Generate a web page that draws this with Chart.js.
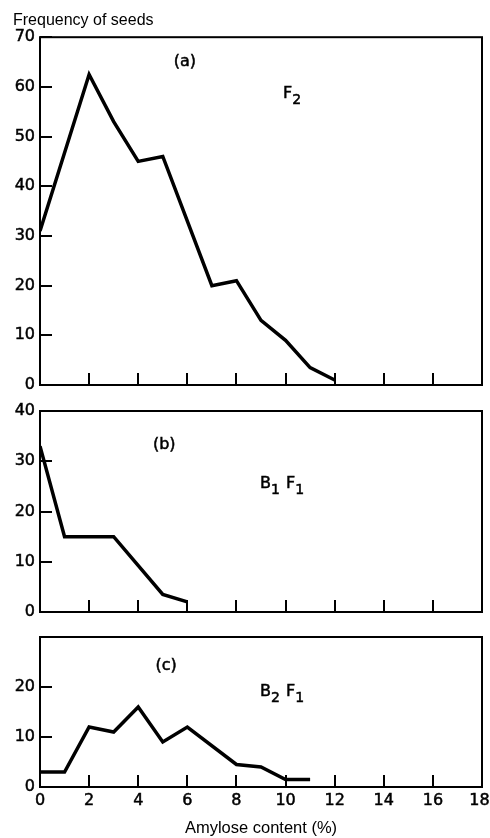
<!DOCTYPE html>
<html>
<head>
<meta charset="utf-8">
<script src="https://cdn.jsdelivr.net/npm/chart.js@4.4.0/dist/chart.umd.min.js"></script>
<style>
  body { margin: 0; background: #fff; }
  canvas { position: absolute; left: 0; }
</style>
</head>
<body>
<canvas id="panelA" width="490" height="395" style="top:0px"></canvas>
<canvas id="panelB" width="490" height="222" style="top:400px"></canvas>
<canvas id="panelC" width="490" height="218" style="top:620px"></canvas>
<script>
// amylose content (%) vs number of seeds, one pair of arrays per population
const f2Amylose = [0, 2, 3, 4, 5, 7, 8, 9, 10, 11, 12];
const f2Seeds   = [31, 62.5, 53, 45, 46, 20, 21, 13, 9, 3.5, 1];

const b1Amylose = [0, 1, 2, 3, 5, 6];
const b1Seeds   = [33, 15, 15, 15, 3.5, 2];

const b2Amylose = [0, 1, 2, 3, 4, 5, 6, 8, 9, 10, 11];
const b2Seeds   = [3, 3, 12, 11, 16, 9, 12, 4.5, 4, 1.5, 1.5];

const xTickValues = [0, 2, 4, 6, 8, 10, 12, 14, 16, 18];

// wide digits for ticks and panel tags, narrower face for the titles
const NUM_FONT = '"DejaVu Sans", sans-serif';
const TEXT_FONT = '"Liberation Sans", Arial, sans-serif';
Chart.defaults.font.family = NUM_FONT;
Chart.defaults.font.size = 16;
Chart.defaults.color = '#000';

// box round the plot area
const frame = {
  id: 'frame',
  afterDraw(chart) {
    const { ctx, chartArea: a } = chart;
    ctx.save();
    ctx.strokeStyle = '#000';
    ctx.lineWidth = 2;
    ctx.strokeRect(a.left, a.top, a.right - a.left, a.bottom - a.top);
    ctx.restore();
  }
};

// "(a)", "F2" style labels placed in data units, with subscripts
const panelLabels = {
  id: 'panelLabels',
  afterDatasetsDraw(chart, args, opts) {
    const { ctx, scales: { x, y } } = chart;
    ctx.save();
    ctx.fillStyle = '#000';
    ctx.strokeStyle = '#000';
    ctx.lineWidth = 0.5;
    ctx.textAlign = 'left';
    ctx.textBaseline = 'middle';
    for (const item of opts.items || []) {
      let px = x.getPixelForValue(item.x);
      const py = y.getPixelForValue(item.y);
      for (const [text, isSub] of item.parts) {
        ctx.font = (isSub ? '14px ' : '16px ') + NUM_FONT;
        const ty = isSub ? py + 6 : py;
        ctx.fillText(text, px, ty);
        ctx.strokeText(text, px, ty);
        px += ctx.measureText(text).width + (isSub ? 1 : 0);
      }
    }
    ctx.restore();
  }
};

function makePanel(id, xs, ys, yMax, cfg) {
  return new Chart(document.getElementById(id), {
    type: 'line',
    data: {
      datasets: [{
        data: xs.map((v, i) => ({ x: v, y: ys[i] })),
        borderColor: '#000',
        borderWidth: 3.5,
        pointRadius: 0,
        tension: 0,
        fill: false
      }]
    },
    options: {
      responsive: false,
      animation: false,
      events: [],
      layout: { padding: { left: 13, right: 8, top: cfg.padTop, bottom: cfg.padBottom } },
      plugins: {
        legend: { display: false },
        tooltip: { enabled: false },
        title: cfg.title ? {
          display: true,
          text: cfg.title,
          align: 'start',
          color: '#000',
          font: { family: TEXT_FONT, size: 16, weight: 'normal' },
          padding: { top: 11, bottom: 7 }
        } : { display: false },
        panelLabels: { items: cfg.labels }
      },
      scales: {
        x: {
          type: 'linear',
          min: 0,
          max: 18,
          afterBuildTicks: s => { s.ticks = xTickValues.map(v => ({ value: v })); },
          ticks: {
            display: cfg.xLabels, padding: 16, color: '#000',
            textStrokeColor: '#000', textStrokeWidth: 0.5,
            // trailing space keeps the last label inside the page edge
            callback: v => (v === 18 ? v + ' ' : v)
          },
          grid: { drawOnChartArea: false, tickLength: -12, color: '#000', lineWidth: 2 },
          border: { display: false },
          title: {
            display: cfg.xLabels,
            text: 'Amylose content (%)',
            color: '#000',
            font: { family: TEXT_FONT, size: 16.5, weight: 'normal' },
            padding: { top: 0, bottom: 0 }
          },
          afterFit: s => {
            s.height = cfg.xLabels ? 51 : 0;
            s.paddingLeft = 0;
            s.paddingRight = 0;
          }
        },
        y: {
          min: 0,
          max: yMax,
          ticks: {
            stepSize: 10,
            padding: 17,
            color: '#000',
            textStrokeColor: '#000',
            textStrokeWidth: 0.5,
            callback: v => (cfg.hideTop && v === yMax ? '' : v)
          },
          grid: { drawOnChartArea: false, tickLength: -12, color: '#000', lineWidth: 2 },
          border: { display: false },
          afterFit: s => {
            s.width = 27;
            s.paddingTop = 0;
            s.paddingBottom = 0;
          }
        }
      }
    },
    plugins: [frame, panelLabels]
  });
}

makePanel('panelA', f2Amylose, f2Seeds, 70, {
  title: 'Frequency of seeds',
  padTop: 0, padBottom: 10, xLabels: false,
  labels: [
    { x: 5.45, y: 65, parts: [['(a)', false]] },
    { x: 9.9, y: 58.5, parts: [['F', false], ['2', true]] }
  ]
});

makePanel('panelB', b1Amylose, b1Seeds, 40, {
  padTop: 11, padBottom: 10, xLabels: false,
  labels: [
    { x: 4.6, y: 33.3, parts: [['(b)', false]] },
    { x: 8.96, y: 25.5, parts: [['B', false], ['1', true], [' F', false], ['1', true]] }
  ]
});

makePanel('panelC', b2Amylose, b2Seeds, 30, {
  padTop: 17, padBottom: 0, xLabels: true, hideTop: true,
  labels: [
    { x: 4.7, y: 24.2, parts: [['(c)', false]] },
    { x: 8.96, y: 19, parts: [['B', false], ['2', true], [' F', false], ['1', true]] }
  ]
});
</script>
</body>
</html>
